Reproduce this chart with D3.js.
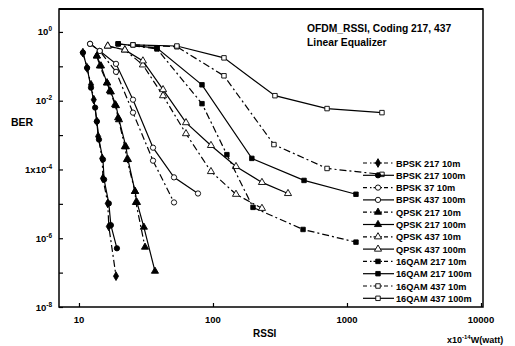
<!DOCTYPE html>
<html>
<head>
<meta charset="utf-8">
<script src="https://cdn.jsdelivr.net/npm/d3@7/dist/d3.min.js"></script>
<style>
  html, body { margin: 0; padding: 0; background: #fff; }
  svg { display: block; }
  text { font-family: "Liberation Sans", Arial, sans-serif; fill: #000; }
</style>
</head>
<body>
<svg id="chart" width="515" height="346"></svg>
<script>
// RSSI (x1e-14 W) versus bit error rate, per modulation / code / distance
const seriesNames = [
  "BPSK 217 10m", "BPSK 217 100m", "BPSK 37 10m", "BPSK 437 100m",
  "QPSK 217 10m", "QPSK 217 100m", "QPSK 437 10m", "QPSK 437 100m",
  "16QAM 217 10m", "16QAM 217 100m", "16QAM 437 10m", "16QAM 437 100m"
];

const bpsk217_10m_x  = [10.7, 11.5, 12.3, 12.9, 13.6, 13.9, 14.9, 15.1, 16.4, 16.7, 18.9];
const bpsk217_10m_y  = [0.25, 0.09, 0.029, 0.0107, 0.0025, 9.1e-4, 2.1e-4, 5.5e-5, 1.03e-5, 2.2e-6, 7.9e-8];
const bpsk217_100m_x = [10.7, 11.5, 12.3, 13.2, 13.6, 14.1, 15.1, 15.4, 16.7, 17.3, 19.2];
const bpsk217_100m_y = [0.25, 0.09, 0.024, 0.0063, 0.0025, 7.4e-4, 1.95e-4, 5.1e-5, 1.03e-5, 2.4e-6, 5.1e-7];
const bpsk37_10m_x   = [12.1, 14.3, 18.9, 25.3, 35.7, 51.2];
const bpsk37_10m_y   = [0.45, 0.28, 0.069, 0.0045, 1.8e-4, 1.1e-5];
const bpsk437_100m_x = [12.1, 14.3, 18.9, 25.3, 35.7, 51.2, 77.3];
const bpsk437_100m_y = [0.45, 0.28, 0.118, 0.0107, 4.3e-4, 5.9e-5, 2.0e-5];
const qpsk217_10m_x  = [13.6, 14.3, 16.2, 17.0, 18.6, 19.6, 22.0, 22.8, 26.2, 26.6, 31.1];
const qpsk217_10m_y  = [0.20, 0.103, 0.033, 0.0195, 0.0077, 0.0032, 4.6e-4, 1.95e-4, 2.3e-5, 1.1e-5, 5.5e-7];
const qpsk217_100m_x = [13.6, 14.6, 16.2, 17.3, 18.9, 19.9, 22.4, 23.2, 26.2, 27.1, 30.5, 36.9];
const qpsk217_100m_y = [0.20, 0.103, 0.033, 0.018, 0.0072, 0.0028, 4.6e-4, 1.95e-4, 2.3e-5, 1.1e-5, 2.1e-6, 1.1e-7];
const qpsk437_10m_x  = [16.4, 22.0, 30.0, 42.4, 62.9, 96.6, 148.5, 232];
const qpsk437_10m_y  = [0.39, 0.30, 0.110, 0.014, 0.0011, 8.7e-5, 1.9e-5, 7.4e-6];
const qpsk437_100m_x = [16.4, 22.0, 30.0, 42.4, 62.9, 96.6, 148.5, 232, 363];
const qpsk437_100m_y = [0.39, 0.30, 0.144, 0.021, 0.0023, 5.0e-4, 1.22e-4, 4.2e-5, 2.0e-5];
const qam217_10m_x   = [19.6, 38.2, 82.8, 127, 199, 470, 1167];
const qam217_10m_y   = [0.45, 0.32, 0.0082, 2.7e-4, 7.9e-6, 1.8e-6, 7.7e-7];
const qam217_100m_x  = [19.6, 38.2, 82.8, 195, 478, 1167];
const qam217_100m_y  = [0.45, 0.34, 0.029, 2.1e-4, 4.8e-5, 1.9e-5];
const qam437_10m_x   = [25.3, 53.8, 120.8, 285, 710, 1824];
const qam437_10m_y   = [0.42, 0.37, 0.053, 5.3e-4, 1.07e-4, 7.2e-5];
const qam437_100m_x  = [25.3, 53.8, 120.8, 290, 710, 1824];
const qam437_100m_y  = [0.42, 0.39, 0.176, 0.014, 0.0059, 0.0045];

const xTickValues = [10, 100, 1000, 10000];
const xTickLabels = ["10", "100", "1000", "10000"];
const yMinorTicks = [1, 1e-1, 1e-2, 1e-3, 1e-4, 1e-5, 1e-6, 1e-7, 1e-8];
const yTickValues = [1, 1e-2, 1e-4, 1e-6, 1e-8];
const yTickBase   = ["10", "10", "1x10", "10", "10"];
const yTickExp    = ["0", "-2", "-4", "-6", "-8"];

const titleLines = ["OFDM_RSSI, Coding 217, 437", "Linear Equalizer"];

// marker / line style per series
const markerKinds = ["diamond", "circle", "ocircle", "ocircle",
                     "triangle", "triangle", "otriangle", "otriangle",
                     "square", "square", "osquare", "osquare"];
const dashed = [true, false, true, false, true, false, true, false, true, false, true, false];

const xs = [bpsk217_10m_x, bpsk217_100m_x, bpsk37_10m_x, bpsk437_100m_x,
            qpsk217_10m_x, qpsk217_100m_x, qpsk437_10m_x, qpsk437_100m_x,
            qam217_10m_x, qam217_100m_x, qam437_10m_x, qam437_100m_x];
const ys = [bpsk217_10m_y, bpsk217_100m_y, bpsk37_10m_y, bpsk437_100m_y,
            qpsk217_10m_y, qpsk217_100m_y, qpsk437_10m_y, qpsk437_100m_y,
            qam217_10m_y, qam217_100m_y, qam437_10m_y, qam437_100m_y];

const series = seriesNames.map((name, i) => ({
  name, kind: markerKinds[i], dashed: dashed[i],
  points: xs[i].map((x, j) => ({ x, y: ys[i][j] }))
}));

const svg = d3.select("#chart");
const plot = { left: 59, right: 483, top: 9, bottom: 307 };

const x = d3.scaleLog().domain([Math.pow(10, 0.851), Math.pow(10, 4.015)]).range([plot.left, plot.right]);
const y = d3.scaleLog().domain([1e-8, Math.pow(10, 0.667)]).range([plot.bottom, plot.top]);

const DASH = "7,3,2,3";

function symbolFor(kind) {
  const base = kind.replace(/^o/, "");
  const map = { circle: d3.symbolCircle, diamond: d3.symbolDiamond, triangle: d3.symbolTriangle, square: d3.symbolSquare };
  const size = { circle: 22, diamond: 22, triangle: 22, square: 20 }[base];
  return d3.symbol().type(map[base]).size(size)();
}
function isOpen(kind) { return kind.startsWith("o"); }

// frame
svg.append("rect")
  .attr("x", plot.left).attr("y", plot.top)
  .attr("width", plot.right - plot.left).attr("height", plot.bottom - plot.top)
  .attr("fill", "none").attr("stroke", "#000").attr("stroke-width", 1.5);
svg.append("line")
  .attr("x1", plot.left).attr("x2", plot.right).attr("y1", plot.top).attr("y2", plot.top)
  .attr("stroke", "#000").attr("stroke-width", 2);

// axes with inward ticks
const xAxis = d3.axisBottom(x).tickValues(xTickValues).tickSize(-4).tickFormat(() => "");
svg.append("g").attr("transform", `translate(0,${plot.bottom})`).call(xAxis)
  .call(g => g.select(".domain").remove())
  .selectAll("line").attr("stroke", "#000").attr("stroke-width", 1.2);

const yAxis = d3.axisLeft(y).tickValues(yMinorTicks).tickSize(-4).tickFormat(() => "");
svg.append("g").attr("transform", `translate(${plot.left},0)`).call(yAxis)
  .call(g => g.select(".domain").remove())
  .selectAll("line").attr("stroke", "#000").attr("stroke-width", 1.2);

// x tick labels
svg.append("g").selectAll("text").data(xTickValues).join("text")
  .attr("x", d => x(d)).attr("y", 323)
  .attr("text-anchor", "middle").attr("font-size", 9.5).attr("font-weight", "bold")
  .text((d, i) => xTickLabels[i]);

// y tick labels with exponents
const yl = svg.append("g").selectAll("text").data(yTickValues).join("text")
  .attr("x", 52).attr("y", d => y(d) + 3.5)
  .attr("text-anchor", "end").attr("font-size", 9.5).attr("font-weight", "bold");
yl.append("tspan").text((d, i) => yTickBase[i]);
yl.append("tspan").attr("font-size", 6.5).attr("dy", -4).text((d, i) => yTickExp[i]);

// axis titles
svg.append("text").attr("x", 11).attr("y", 126).attr("font-size", 10.5).attr("font-weight", "bold").text("BER");
svg.append("text").attr("x", 253).attr("y", 337).attr("font-size", 10).attr("font-weight", "bold").text("RSSI");
const unit = svg.append("text").attr("x", 447).attr("y", 343).attr("font-size", 9).attr("font-weight", "bold");
unit.append("tspan").text("x10");
unit.append("tspan").attr("font-size", 6).attr("dy", -4).text("-14");
unit.append("tspan").attr("dy", 4).text("W(watt)");

// chart title
svg.append("g").selectAll("text").data(titleLines).join("text")
  .attr("x", 307).attr("y", (d, i) => 32 + i * 14)
  .attr("font-size", 10.3).attr("font-weight", "bold").text(d => d);

// curves
const line = d3.line().x(d => x(d.x)).y(d => y(d.y));
const gSeries = svg.append("g").selectAll("g").data(series).join("g");
gSeries.append("path")
  .attr("d", d => line(d.points))
  .attr("fill", "none").attr("stroke", "#000").attr("stroke-width", 1.2)
  .attr("stroke-dasharray", d => d.dashed ? DASH : null);
gSeries.each(function (s) {
  d3.select(this).selectAll("path.m").data(s.points).join("path").attr("class", "m")
    .attr("d", symbolFor(s.kind))
    .attr("transform", p => `translate(${x(p.x)},${y(p.y)})`)
    .attr("fill", isOpen(s.kind) ? "#fff" : "#000")
    .attr("stroke", "#000").attr("stroke-width", 0.9);
});

// legend
const legend = svg.append("g").selectAll("g").data(series).join("g")
  .attr("transform", (d, i) => `translate(0,${163 + i * 12.3})`);
legend.append("line")
  .attr("x1", 363).attr("x2", 394).attr("y1", 0).attr("y2", 0)
  .attr("stroke", "#000").attr("stroke-width", 1.2)
  .attr("stroke-dasharray", d => d.dashed ? "4,3,1.5,2" : null);
legend.append("path")
  .attr("d", d => symbolFor(d.kind))
  .attr("transform", "translate(378,0)")
  .attr("fill", d => isOpen(d.kind) ? "#fff" : "#000")
  .attr("stroke", "#000").attr("stroke-width", 0.9);
legend.append("text")
  .attr("x", 396).attr("y", 3.5).attr("font-size", 9.2).attr("font-weight", "bold")
  .text(d => d.name);
</script>
</body>
</html>
